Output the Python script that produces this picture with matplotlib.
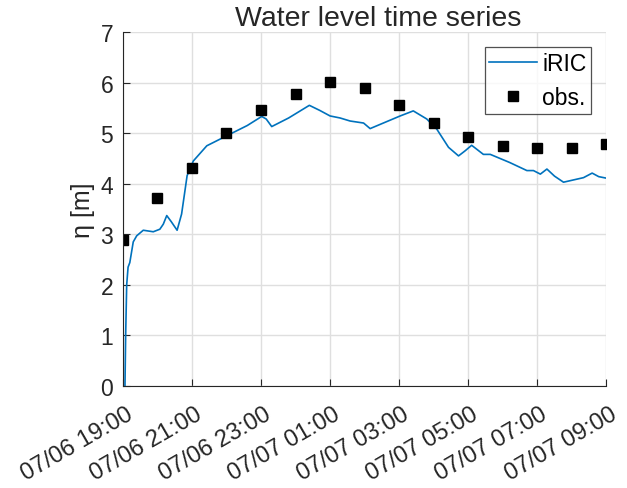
import datetime as dt
import matplotlib
matplotlib.use("Agg")
import matplotlib.pyplot as plt
import matplotlib.dates as mdates
import matplotlib.transforms as mtransforms

plt.rcParams['font.family'] = ['Liberation Sans', 'DejaVu Sans']

t0 = dt.datetime(2018, 7, 6, 19, 0)

# iRIC simulated water level (hours after 07/06 19:00, eta [m])
iric_hours = [0.06, 0.08, 0.11, 0.15, 0.20, 0.30, 0.40, 0.59, 0.88, 1.07, 1.17, 1.27,
              1.40, 1.57, 1.70, 1.86, 2.04, 2.43, 3.10, 3.60, 4.02, 4.15, 4.31,
              4.80, 5.40, 5.70, 6.00, 6.29, 6.58, 6.97, 7.16, 8.03, 8.41, 8.80,
              9.09, 9.43, 9.72, 9.91, 10.10, 10.44, 10.64, 11.20, 11.70, 11.89,
              12.09, 12.28, 12.50, 12.76, 13.34, 13.59, 13.78, 14.00]
iric_eta = [0.0, 1.0, 2.0, 2.35, 2.44, 2.85, 2.97, 3.08, 3.05, 3.10, 3.20, 3.37,
            3.25, 3.08, 3.40, 4.16, 4.45, 4.75, 4.98, 5.15, 5.33, 5.28, 5.13,
            5.30, 5.55, 5.45, 5.34, 5.30, 5.24, 5.20, 5.09, 5.34, 5.44, 5.28,
            5.08, 4.72, 4.55, 4.65, 4.76, 4.58, 4.58, 4.42, 4.26, 4.26,
            4.19, 4.29, 4.15, 4.03, 4.12, 4.21, 4.14, 4.11]

# observed water level, hourly
obs_hours = list(range(15))
obs_eta = [2.89, 3.71, 4.32, 5.00, 5.46, 5.78, 6.01, 5.90, 5.55, 5.21,
           4.93, 4.74, 4.70, 4.70, 4.78]

iric_t = [t0 + dt.timedelta(hours=h) for h in iric_hours]
obs_t = [t0 + dt.timedelta(hours=h) for h in obs_hours]

fig = plt.figure(figsize=(6.27, 4.89), dpi=100)
ax = fig.add_axes([0.196, 0.2086, 0.771, 0.7239])

ax.plot(iric_t, iric_eta, color='#0072BD', lw=1.2, label='iRIC')
ax.plot(obs_t, obs_eta, 's', color='k', ms=6.5, label='obs.')

ax.set_xlim(t0, t0 + dt.timedelta(hours=14))
ax.set_ylim(0, 7)
ax.set_yticks(range(8))
ax.xaxis.set_major_locator(mdates.HourLocator(byhour=[19, 21, 23, 1, 3, 5, 7, 9]))
ax.xaxis.set_major_formatter(mdates.DateFormatter('%m/%d %H:%M'))

ax.grid(True, color='#dfdfdf', lw=1.0)
ax.set_axisbelow(True)
for s in ['top', 'right']:
    ax.spines[s].set_visible(False)
for s in ['left', 'bottom']:
    ax.spines[s].set_color('#262626')
ax.tick_params(direction='in', length=5, width=0.8, colors='#262626', labelsize=16.5)
ax.tick_params(axis='y', pad=7)
ax.tick_params(axis='x', pad=12, labelsize=17)
shift = mtransforms.ScaledTranslation(3 / 100, 0, fig.dpi_scale_trans)
for lab in ax.get_xticklabels():
    lab.set_rotation(30)
    lab.set_ha('right')
    lab.set_rotation_mode('anchor')
    lab.set_transform(lab.get_transform() + shift)

ax.set_ylabel('η [m]', fontsize=18, color='#262626', labelpad=4)
ax.set_title('Water level time series', fontsize=20.5, color='#262626', pad=5, x=0.528)

leg = ax.legend(loc='upper right', fontsize=16.5, frameon=True, fancybox=False,
                edgecolor='#262626', handlelength=2.1, handletextpad=0.2,
                borderpad=0.2, labelspacing=0.5, borderaxespad=0,
                bbox_to_anchor=(0.968, 0.957))
leg.get_frame().set_linewidth(0.9)

fig.savefig('out.png', dpi=100)
